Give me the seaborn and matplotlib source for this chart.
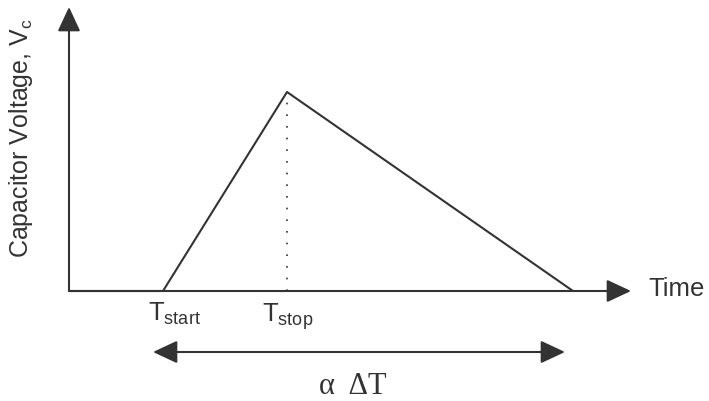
import matplotlib.pyplot as plt
import seaborn as sns

# waveform (time, capacitor voltage), arbitrary units
time = [0, 94, 218, 504]
voltage = [0, 0, 199, 0]
t_start, t_stop = 94, 218
t_labels = ['$\\mathregular{T_{start}}$', '$\\mathregular{T_{stop}}$']
span = (84, 496)  # alpha * delta T arrow

sns.set_theme(style='white')
plt.rcParams['font.family'] = ['Liberation Sans', 'DejaVu Sans']
ink = '#333333'

fig = plt.figure(figsize=(7.09, 4.01), dpi=100)
ax = fig.add_axes([0, 0, 1, 1])
ax.set_xlim(-69, 640)
ax.set_ylim(-110, 291)
ax.axis('off')

arrow = dict(arrowstyle='-|>,head_length=0.75,head_width=0.35', color=ink,
             lw=1.5, shrinkA=0, shrinkB=0, mutation_scale=20)
ax.annotate('', xy=(562, 0), xytext=(0, 0), arrowprops=arrow)
ax.annotate('', xy=(0, 284), xytext=(0, 0), arrowprops=arrow)

sns.lineplot(x=time, y=voltage, color=ink, lw=1.5, ax=ax)
ax.plot([t_stop, t_stop], [0, max(voltage)], color=ink, lw=1.2,
        linestyle=(0, (1, 6)))

ax.text(579, -5, 'Time', fontsize=18.5, color=ink, ha='left', va='baseline')
ax.text(-48, 153, 'Capacitor Voltage, $\\mathregular{V_c}$', fontsize=18,
        color=ink, rotation=90, ha='center', va='center')
ax.text(79, -10, t_labels[0], fontsize=18.5, color=ink, ha='left', va='top')
ax.text(193, -10, t_labels[1], fontsize=18.5, color=ink, ha='left', va='top')

dbl = dict(arrow, arrowstyle='<|-|>,head_length=0.75,head_width=0.35')
ax.annotate('', xy=(span[1], -61), xytext=(span[0], -61), arrowprops=dbl)
ax.text(284, -103, 'α  ΔT', fontsize=22, color=ink, ha='center',
        va='baseline', family=['Liberation Serif', 'DejaVu Serif'])

fig.savefig('out.png', dpi=100)
